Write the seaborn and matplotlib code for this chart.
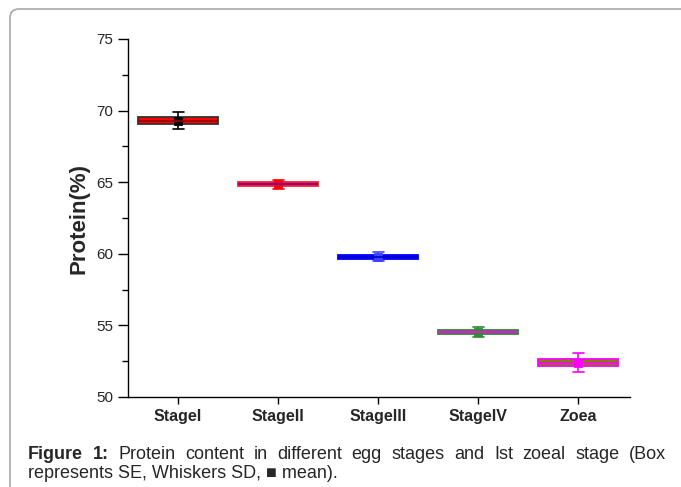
import numpy as np
import pandas as pd
import seaborn as sns
import matplotlib
matplotlib.use("Agg")
import matplotlib.pyplot as plt
from matplotlib.patches import FancyBboxPatch
from matplotlib.transforms import IdentityTransform

# ---- data ----
categories = ["StageI", "StageII", "StageIII", "StageIV", "Zoea"]
means = [69.3, 64.85, 59.8, 54.55, 52.4]
se_low = [69.06, 64.72, 59.67, 54.40, 52.13]
se_high = [69.53, 64.98, 59.92, 54.68, 52.63]
sd_low = [68.70, 64.55, 59.50, 54.21, 51.72]
sd_high = [69.90, 65.13, 60.10, 54.90, 53.05]

face_colors = ["#ff0000", "#ff0000", "#0000ff", "#ff00ff", "#808000"]
edge_colors = ["#333333", "#ff2020", "#0000ff", "#2e8b2e", "#ff00ff"]
median_colors = ["#990000", "#6a00c0", "#0000cc", "#ff00ff", "#ff00ff"]
whisker_colors = ["#000000", "#ff0000", "#4040ff", "#2e8b2e", "#ff00ff"]

caption_bold = "Figure 1:"
caption_line1 = "Protein content in different egg stages and Ist zoeal stage (Box"
caption_line2 = "represents SE, Whiskers SD, \u25a0 mean)."

# summary points so that quartiles = SE box and min/max = SD whiskers
rows = []
for c, a, b, m, d, e in zip(categories, sd_low, se_low, means, se_high, sd_high):
    for v in (a, b, m, d, e):
        rows.append({"stage": c, "protein": v})
df = pd.DataFrame(rows)

sns.set_theme(style="ticks")
plt.rcParams["font.family"] = ["Liberation Sans", "DejaVu Sans"]

W, H = 681, 487
fig = plt.figure(figsize=(W / 100, H / 100), dpi=100)
ax = fig.add_axes([128 / W, 1 - 397 / H, (630 - 128) / W, (397 - 39) / H])

for i, c in enumerate(categories):
    sub = df[df["stage"] == c]
    sns.boxplot(data=sub, x="stage", y="protein", order=categories,
                whis=(0, 100), width=0.8, color=face_colors[i],
                linecolor=edge_colors[i], linewidth=1.3, saturation=1,
                showfliers=False, ax=ax, capwidths=0.11,
                medianprops=dict(color=median_colors[i], linewidth=1.2),
                whiskerprops=dict(color=whisker_colors[i], linewidth=1.2),
                capprops=dict(color=whisker_colors[i], linewidth=1.2))

sns.pointplot(x=categories, y=means, hue=categories, order=categories,
              palette=whisker_colors, marker="s", linestyle="none",
              markersize=5, legend=False, ax=ax, errorbar=None)

ax.set_xlim(-0.5, 4.52)
ax.set_ylim(50, 75)
ax.set_yticks([50, 55, 60, 65, 70, 75])
ax.set_yticks(np.arange(52.5, 75, 5), minor=True)
ax.set_xticks(range(len(categories)))
ax.set_xticklabels(categories, fontsize=11.5, fontweight="bold")
ax.tick_params(axis="y", which="major", labelsize=11, length=7, width=1, direction="out", color="black")
ax.tick_params(axis="y", which="minor", length=4, width=1, direction="out", color="black")
ax.tick_params(axis="x", which="major", length=5, width=1, direction="out", color="black")
ax.set_xlabel("")
ax.set_ylabel("Protein(%)", fontsize=16, fontweight="bold", labelpad=5)
for s in ("top", "right"):
    ax.spines[s].set_visible(False)
for s in ("left", "bottom"):
    ax.spines[s].set_color("black")
    ax.spines[s].set_linewidth(1)

# frame
frame = FancyBboxPatch((10, -30), 720, (H - 9) + 30,
                       boxstyle="round,pad=0,rounding_size=9",
                       transform=IdentityTransform(), facecolor="none",
                       edgecolor="#a8a8a8", linewidth=1.2, zorder=0)
fig.patches.append(frame)

# justified caption line 1
fig.canvas.draw()
r = fig.canvas.get_renderer()
x0, x1 = 28, 666
y1 = H - 459
cap_fs = 13
words = [(w, "bold") for w in caption_bold.split()] + [(w, "normal") for w in caption_line1.split()]
texts = []
for w, fw in words:
    t = fig.text(0, y1 / H, w, fontsize=cap_fs, fontweight=fw, ha="left", va="baseline")
    texts.append(t)
widths = [t.get_window_extent(r).width for t in texts]
gap = (x1 - x0 - sum(widths)) / (len(texts) - 1)
x = x0
for t, wd in zip(texts, widths):
    t.set_x(x / W)
    x += wd + gap
fig.text(x0 / W, (H - 478) / H, caption_line2, fontsize=cap_fs, ha="left", va="baseline")

fig.savefig("out.png", dpi=100)
